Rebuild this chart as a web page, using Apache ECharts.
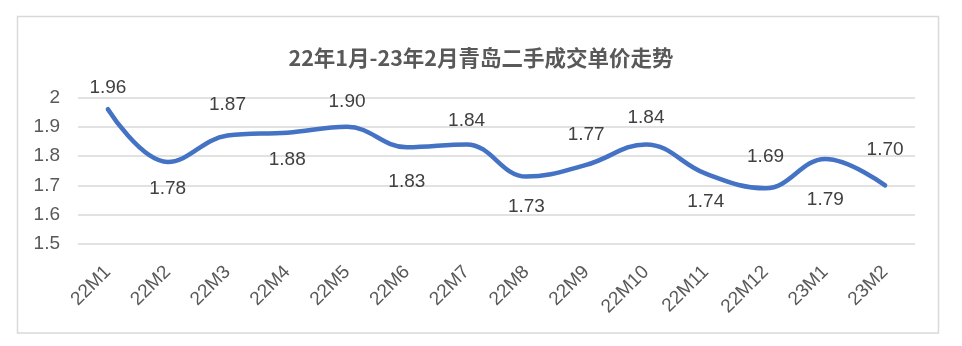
<!DOCTYPE html>
<html><head><meta charset="utf-8">
<script src="https://cdn.jsdelivr.net/npm/echarts@6/dist/echarts.min.js"></script>
<style>html,body{margin:0;padding:0;background:#fff}#c{width:962px;height:346px}</style>
</head><body><div id="c"></div>
<script>
const categories = ['22M1','22M2','22M3','22M4','22M5','22M6','22M7','22M8','22M9','22M10','22M11','22M12','23M1','23M2'];
const values = [1.96,1.78,1.87,1.88,1.90,1.83,1.84,1.73,1.77,1.84,1.74,1.69,1.79,1.70];
const labelSide = ['top','bottom','top','bottom','top','bottom','top','bottom','top','top','bottom','top','bottom','top'];
const labelGap = [11,16,20,17,15,24,13,20,20,16,18,21,30,25];
const titleText = '22年1月-23年2月青岛二手成交单价走势';

const chart = echarts.init(document.getElementById('c'));
const cjk = '"Noto Sans CJK SC", "Noto Sans", sans-serif';
const num = '"Liberation Sans", Arial, sans-serif';
chart.setOption({
  animation: false,
  title: {text: titleText, left: 'center', top: 42,
    textStyle: {fontFamily: cjk, fontSize: 21.5, fontWeight: 'bold', color: '#595959'}},
  graphic: [{type: 'rect', shape: {x: 17.5, y: 16.5, width: 921, height: 316.5},
    style: {fill: 'none', stroke: '#d9d9d9', lineWidth: 1.5}, silent: true, z: -1}],
  grid: {left: 78, right: 47, top: 97.5, bottom: 102},
  xAxis: {type: 'category', data: categories, boundaryGap: true,
    axisLine: {show: false}, axisTick: {show: false},
    axisLabel: {rotate: 45, margin: 25, fontFamily: num, fontSize: 19, color: '#595959'}},
  yAxis: {type: 'value', min: 1.5, max: 2, interval: 0.1,
    axisLine: {show: false}, axisTick: {show: false},
    splitLine: {lineStyle: {color: '#d9d9d9', width: 1.5}},
    axisLabel: {margin: 18, fontFamily: num, fontSize: 19, color: '#595959',
      formatter: v => String(Math.round(v * 10) / 10)}},
  series: [{type: 'line', smooth: 0.4, symbol: 'circle', symbolSize: 2, showSymbol: true,
    itemStyle: {color: 'rgba(0,0,0,0)', borderWidth: 0},
    lineStyle: {color: '#4472C4', width: 4.5, cap: 'round'},
    labelLayout: {hideOverlap: false},
    data: values.map((v, i) => ({value: v,
      label: {show: true, position: labelSide[i], distance: labelGap[i]}})),
    label: {show: true, fontFamily: num, fontSize: 19, color: '#404040',
      formatter: p => Number(p.value).toFixed(2)}}]
});
</script></body></html>
